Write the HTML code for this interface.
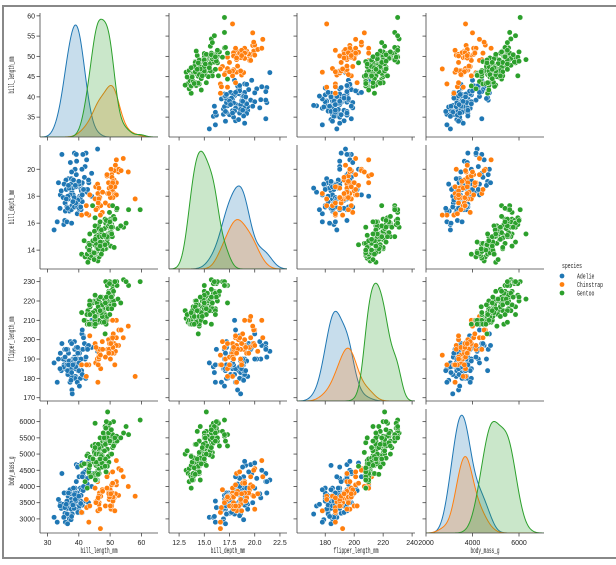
<!DOCTYPE html>
<html><head><meta charset="utf-8">
<style>
html,body{margin:0;padding:0;background:#fff;width:616px;height:565px;overflow:hidden}
svg{display:block}
text{font-family:"Liberation Sans","Noto Sans CJK SC",sans-serif;fill:#222}
.lab{font-family:"Liberation Mono","Noto Sans CJK SC",monospace;font-size:8px}
.leg{font-family:"Liberation Mono","Noto Sans CJK SC",monospace;font-size:7px}
.tick{font-size:7px}
</style></head>
<body>
<svg id="chart" width="616" height="565" viewBox="0 0 616 565" xmlns="http://www.w3.org/2000/svg">
<rect x="3" y="6" width="620" height="552" fill="none" stroke="#888" stroke-width="2"/>
<g id="plots"></g>
<g>
<text x="572" y="268" class="leg" text-anchor="middle" textLength="20" lengthAdjust="spacingAndGlyphs">species</text>
<circle cx="562" cy="276" r="2.4" fill="#1f77b4"/>
<text x="577" y="278.5" class="leg" textLength="17.4" lengthAdjust="spacingAndGlyphs">Adelie</text>
<circle cx="562" cy="284.5" r="2.4" fill="#ff7f0e"/>
<text x="577" y="287" class="leg" textLength="26" lengthAdjust="spacingAndGlyphs">Chinstrap</text>
<circle cx="562" cy="293" r="2.4" fill="#2ca02c"/>
<text x="577" y="295.5" class="leg" textLength="17.4" lengthAdjust="spacingAndGlyphs">Gentoo</text>
</g>
</svg>
<script>
// Data: [bill_length, bill_depth, flipper_length, body_mass]
const speciesNames = ["Adelie","Chinstrap","Gentoo"];
const variables = ["bill_length_mm","bill_depth_mm","flipper_length_mm","body_mass_g"];
const adelie = [[39.1,18.7,181,3750],[39.5,17.4,186,3800],[40.3,18.0,195,3250],[36.7,19.3,193,3450],[39.3,20.6,190,3650],[38.9,17.8,181,3625],[39.2,19.6,195,4675],[34.1,18.1,193,3475],[42.0,20.2,190,4250],[37.8,17.1,186,3300],[37.8,17.3,180,3700],[41.1,17.6,182,3200],[38.6,21.2,191,3800],[34.6,21.1,198,4400],[36.6,17.8,185,3700],[38.7,19.0,195,3450],[42.5,20.7,197,4500],[34.4,18.4,184,3325],[46.0,21.5,194,4200],[37.8,18.3,174,3400],[37.7,18.7,180,3600],[35.9,19.2,189,3800],[38.2,18.1,185,3950],[38.8,17.2,180,3800],[35.3,18.9,187,3800],[40.6,18.6,183,3550],[40.5,17.9,187,3200],[37.9,18.6,172,3150],[40.5,18.9,180,3950],[39.5,16.7,178,3250],[37.2,18.1,178,3900],[39.5,17.8,188,3300],[40.9,18.9,184,3900],[36.4,17.0,195,3325],[39.2,21.1,196,4150],[38.8,20.0,190,3950],[42.2,18.5,180,3550],[37.6,19.3,181,3300],[39.8,19.1,184,4650],[36.5,18.0,182,3150],[40.8,18.4,195,3900],[36.0,18.5,186,3100],[44.1,19.7,196,4400],[37.0,16.9,185,3000],[39.6,18.8,190,4600],[41.1,19.0,182,3425],[37.5,18.9,179,2975],[42.3,21.2,191,4150],[35.0,17.9,190,3450],[35.7,16.9,185,2900],[32.1,15.5,188,3050],[33.5,19.0,190,3600],[38.1,18.6,190,3700],[40.2,17.0,176,3450],[37.3,20.5,199,3775],[35.6,17.5,191,3175],[36.2,17.2,187,3150],[41.5,18.3,195,4300],[40.7,17.0,190,3725],[39.7,18.9,184,3550],[37.6,17.0,185,3600],[39.0,18.7,185,3650],[38.6,17.2,199,3750],[43.2,19.0,197,4775],[35.2,15.9,186,3050],[41.4,18.5,202,3875],[35.5,16.2,195,3350],[41.8,19.4,198,4450],[36.9,18.6,189,3500],[39.6,17.2,196,3550],[40.2,17.1,193,3400],[37.7,19.8,198,3500],[36.4,17.1,184,2850],[41.3,21.1,195,4400],[33.1,16.1,178,2900],[40.6,17.2,187,3475],[38.3,19.2,189,3950],[42.7,18.3,196,4075],[36.2,16.1,187,3550],[40.1,18.9,188,4300],[34.0,17.1,185,3400],[43.1,19.2,197,3500],[37.7,16.0,183,3075],[41.0,20.0,203,4725],[39.7,17.7,193,3200],[42.8,18.5,195,4250],[38.5,17.9,190,3325],[36.7,18.8,187,3800],[41.5,18.5,201,4000],[39.0,17.5,186,3550],[44.1,18.0,210,4000],[38.1,17.6,187,3425],[41.1,18.1,205,4300],[36.0,17.8,195,3450],[38.9,18.8,190,3600],[40.0,19.1,184,3700]];
const chinstrap = [[46.5,17.9,192,3500],[50.0,19.5,196,3900],[51.3,19.2,193,3650],[45.4,18.7,188,3525],[52.7,19.8,197,3725],[45.2,17.8,198,3950],[46.1,18.2,178,3250],[51.3,18.2,197,3750],[46.0,18.9,195,4150],[51.3,19.9,198,3700],[46.6,17.8,193,3800],[51.7,20.3,194,3775],[47.0,17.3,185,3700],[52.0,18.1,201,4050],[45.9,17.1,190,3575],[50.5,19.6,201,4050],[50.3,20.0,197,3300],[58.0,17.8,181,3700],[46.4,18.6,190,3450],[49.2,18.2,195,4400],[42.4,17.3,181,3600],[48.5,17.5,191,3400],[43.2,16.6,187,2900],[50.6,19.4,193,3800],[46.7,17.9,195,3300],[52.0,19.0,197,4150],[50.5,18.4,200,3400],[49.5,19.0,200,3800],[46.4,17.8,191,3700],[52.8,20.0,205,4550],[40.9,16.6,187,3200],[54.2,20.8,201,4300],[42.5,16.7,187,3350],[51.0,18.8,203,4100],[49.7,18.6,195,3600],[47.5,16.8,199,3900],[47.6,18.3,195,3850],[52.0,20.7,210,4800],[46.9,16.6,192,2700],[53.5,19.9,205,4500],[49.0,19.5,210,3950],[46.2,17.5,187,3650],[50.9,19.1,196,3550],[45.5,17.0,196,3500],[50.9,17.9,196,3675],[50.8,18.5,201,4450],[50.1,17.9,190,3400],[49.0,19.6,212,4300],[51.5,18.7,187,3250],[49.8,17.3,198,3675],[55.8,19.8,207,4000],[43.5,18.1,202,3400],[49.6,18.2,193,3775],[50.8,19.0,210,4100],[50.2,18.7,198,3775]];
const gentoo = [[46.1,13.2,211,4500],[50.0,16.3,230,5700],[48.7,14.1,210,4450],[50.0,15.2,218,5700],[47.6,14.5,215,5400],[46.5,13.5,210,4550],[45.4,14.6,211,4800],[46.7,15.3,219,5200],[43.3,13.4,209,4400],[46.8,15.4,215,5150],[40.9,13.7,214,4650],[49.0,16.1,216,5550],[45.5,13.7,214,4650],[48.4,14.6,213,5850],[45.8,14.6,210,4200],[49.3,15.7,217,5850],[42.0,13.5,210,4150],[49.2,15.2,221,6300],[46.2,14.5,209,4800],[48.7,15.1,222,5350],[50.2,14.3,218,5700],[45.1,14.5,215,5000],[46.5,14.5,213,4400],[46.3,15.8,215,5050],[42.9,13.1,215,5000],[46.1,15.1,215,5100],[47.8,15.0,215,5650],[48.2,14.3,210,4600],[50.0,15.3,220,5550],[47.3,15.3,222,5250],[42.8,14.2,209,4700],[45.1,14.5,207,5050],[59.6,17.0,230,6050],[49.1,14.8,220,5150],[48.4,16.3,220,5400],[42.6,13.7,213,4950],[44.4,17.3,219,5250],[44.0,13.6,208,4350],[48.7,15.7,208,5350],[42.7,13.7,208,3950],[49.6,16.0,225,5700],[45.3,13.7,210,4300],[49.6,15.0,216,4750],[50.5,15.9,222,5550],[43.6,13.9,217,4900],[45.5,13.9,210,4200],[50.5,15.9,225,5400],[44.9,13.3,213,5100],[45.2,15.8,215,5300],[46.6,14.2,210,4850],[48.5,14.1,220,5300],[45.1,14.4,210,4400],[50.1,15.0,225,5000],[46.5,14.8,217,5200],[45.0,15.4,220,5050],[43.8,13.9,208,4300],[45.5,15.0,220,5000],[43.2,14.5,208,4450],[50.4,15.3,224,5550],[45.3,13.8,208,4200],[46.2,14.9,221,5300],[45.7,13.9,214,4400],[54.3,15.7,231,5650],[45.8,14.2,219,4700],[49.8,16.8,230,5700],[49.5,16.2,229,5800],[43.5,14.2,220,4700],[50.7,15.0,223,5550],[47.7,15.0,216,4750],[46.4,15.6,221,5000],[48.2,15.6,221,5100],[46.4,15.0,216,4700],[48.6,16.0,230,5800],[47.5,14.2,209,4600],[51.1,16.3,220,6000],[45.2,13.8,215,4750],[45.2,16.4,223,5950],[49.1,14.5,212,4625],[52.5,15.6,221,5450],[47.4,14.6,212,4725],[50.0,15.9,224,5350],[44.9,13.8,212,4750],[50.8,17.3,228,5600],[43.4,14.4,218,4600],[51.3,14.2,218,5300],[47.5,14.0,212,4875],[52.1,17.0,230,5550],[47.5,15.0,218,4950],[52.2,17.1,228,5400],[45.5,14.5,212,4750],[49.5,16.1,224,5650],[44.5,14.7,214,4850],[50.8,15.7,226,5200],[49.4,15.8,216,4925],[46.9,14.6,222,4875],[48.4,14.4,203,4625],[51.1,16.5,225,5250],[48.5,15.0,219,4850],[55.9,17.0,228,5600],[47.2,15.5,215,4975],[49.1,15.0,228,5500],[46.8,16.1,215,5500],[41.7,14.7,210,4700],[53.4,15.8,219,5500],[43.3,14.0,208,4575],[48.1,15.1,209,5500],[50.5,15.2,216,5000],[49.8,15.9,229,5950],[43.5,15.2,213,4650],[51.5,16.3,230,5500],[46.2,14.1,217,4375],[55.1,16.0,230,5850],[48.8,16.2,222,6000],[47.2,13.7,214,4925],[46.8,14.3,215,4850],[50.4,15.7,222,5750],[45.2,14.8,212,5200],[49.9,16.1,213,5400]];
const xTicks = [[30,40,50,60],[12.5,15,17.5,20,22.5],[180,200,220,240],[2000,4000,6000]];
const xTickLabels = [["30","40","50","60"],["12.5","15.0","17.5","20.0","22.5"],["180","200","220","240"],["2000","4000","6000"]];
const yTicks = [[35,40,45,50,55,60],[14,16,18,20],[170,180,190,200,210,220,230],[3000,3500,4000,4500,5000,5500,6000]];
const domains = [[27.6,65.3],[11.5,23.2],[160.5,242],[2000,7075]];
const yDomains = [[30.1,60.7],[12.6,21.8],[168.3,232.4],[2565,6390]];

const colors = ["#1f77b4","#ff7f0e","#2ca02c"];
const allData = [adelie, chinstrap, gentoo];
const colX = [40,169,297,426], colW = 118;
const rowY = [13,145,277,409], rowH = 124;
const NS = "http://www.w3.org/2000/svg";
const root = document.getElementById("plots");
function mk(tag, attrs, parent){const e=document.createElementNS(NS,tag);for(const k in attrs)e.setAttribute(k,attrs[k]);(parent||root).appendChild(e);return e;}
function xs(c,v){const d=domains[c];return colX[c]+(v-d[0])/(d[1]-d[0])*colW;}
function ys(r,v){const d=yDomains[r];return rowY[r]+rowH-(v-d[0])/(d[1]-d[0])*rowH;}
const N = allData.reduce((s,a)=>s+a.length,0);

function kde(vals, grid){
  const n=vals.length, m=vals.reduce((a,b)=>a+b,0)/n;
  const sd=Math.sqrt(vals.reduce((a,b)=>a+(b-m)*(b-m),0)/(n-1));
  const h=1.3*sd*Math.pow(n,-0.2);
  return grid.map(g=>{let s=0;for(const v of vals){const z=(g-v)/h;s+=Math.exp(-0.5*z*z);}return s/(n*h*Math.sqrt(2*Math.PI))*n/N;});
}

for(let r=0;r<4;r++){
  for(let c=0;c<4;c++){
    const g=mk("g",{});
    
    
    const clipId="clip"+r+c;
    const cp=mk("clipPath",{id:clipId},g);
    mk("rect",{x:colX[c],y:rowY[r],width:colW,height:rowH},cp);
    const body=mk("g",{"clip-path":"url(#"+clipId+")"},g);
    if(r===c){
      const d=domains[c], steps=200, grid=[];
      for(let i=0;i<=steps;i++)grid.push(d[0]+(d[1]-d[0])*i/steps);
      const dens=allData.map(sp=>kde(sp.map(p=>p[c]),grid));
      const mx=Math.max(...dens.flat());
      dens.forEach((dd,si)=>{
        let pts=grid.map((gv,i)=>xs(c,gv).toFixed(2)+","+(rowY[r]+rowH-dd[i]/mx*rowH*0.95).toFixed(2));
        const base=rowY[r]+rowH;
        const area=mk("path",{d:"M"+xs(c,grid[0])+","+base+" L"+pts.join(" L")+" L"+xs(c,grid[steps])+","+base+" Z",fill:colors[si],"fill-opacity":0.25,stroke:"none"},body);
        
        
        const ln=mk("path",{d:"M"+pts.join(" L"),fill:"none",stroke:colors[si],"stroke-width":1},body);
        
        
      });
    } else {
      allData.forEach((sp,si)=>{
        sp.forEach(p=>{
          const pt=mk("circle",{cx:xs(c,p[c]).toFixed(2),cy:ys(r,p[r]).toFixed(2),r:2.7,fill:colors[si],stroke:"#fff","stroke-width":0.5},body);
          
          
        });
      });
    }
    const sp1=mk("line",{x1:colX[c],y1:rowY[r],x2:colX[c],y2:rowY[r]+rowH,stroke:"#444","stroke-width":0.8},g);
    
    
    const sp2=mk("line",{x1:colX[c],y1:rowY[r]+rowH,x2:colX[c]+colW,y2:rowY[r]+rowH,stroke:"#444","stroke-width":0.8},g);
    
    
    yTicks[r].forEach(t=>{
      const y=ys(r,t);
      mk("line",{x1:colX[c]-3.5,y1:y,x2:colX[c],y2:y,stroke:"#444","stroke-width":0.8},g);
      if(c===0){
        const tl=mk("text",{x:colX[c]-5,y:y+2.5,"text-anchor":"end",class:"tick"},g);
        tl.textContent=String(t);
        
        
      }
    });
    xTicks[c].forEach((t,i)=>{
      const x=xs(c,t);
      mk("line",{x1:x,y1:rowY[r]+rowH,x2:x,y2:rowY[r]+rowH+3.5,stroke:"#444","stroke-width":0.8},g);
      if(r===3){
        const tl=mk("text",{x:x,y:rowY[r]+rowH+12,"text-anchor":"middle",class:"tick"},g);
        tl.textContent=xTickLabels[c][i];
        
        
      }
    });
  }
  const yl=mk("text",{x:0,y:0,"text-anchor":"middle",class:"lab",textLength:(variables[r].length*2.65).toFixed(1),lengthAdjust:"spacingAndGlyphs",transform:"translate(14,"+(rowY[r]+rowH/2)+") rotate(-90)"});
  yl.textContent=variables[r];
  
  
}
for(let c=0;c<4;c++){
  const xl=mk("text",{x:colX[c]+colW/2,y:553,"text-anchor":"middle",class:"lab",textLength:(variables[c].length*2.65).toFixed(1),lengthAdjust:"spacingAndGlyphs"});
  xl.textContent=variables[c];
  
  
}
</script>
</body></html>
